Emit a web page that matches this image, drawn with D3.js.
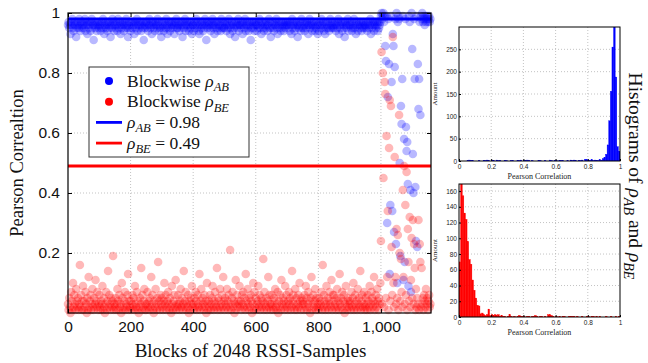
<!DOCTYPE html>
<html>
<head>
<meta charset="utf-8">
<script src="https://cdn.jsdelivr.net/npm/d3@7/dist/d3.min.js"></script>
<style>
  body { margin: 0; background: #fff; }
  svg { display: block; font-family: "Liberation Serif", "DejaVu Serif", serif; }
</style>
</head>
<body>
<svg id="chart" width="648" height="363"></svg>
<script>
// Blockwise correlations, in hundredths, one value for every second block
const blockStep = 2
const blueAB = [
  96,97,95,96,93,97,96,98,95,94,96,97,96,92,95,97,96,95,98,96,94,97,95,96,97,
  95,96,98,94,96,97,93,96,95,97,96,94,97,98,95,96,91,96,97,95,96,94,97,96,95,
  97,96,94,95,97,96,98,95,93,96,97,95,96,94,97,96,95,97,92,96,95,98,96,97,94,
  96,95,97,96,94,98,95,96,97,93,96,95,97,96,94,96,97,95,98,96,95,92,96,97,95,
  94,97,96,95,97,96,93,97,95,96,98,94,96,97,95,96,97,94,96,95,97,91,96,95,97,
  96,97,95,94,96,98,96,95,97,93,96,97,95,96,94,97,96,95,98,96,97,94,95,96,92,
  97,95,96,94,97,96,95,98,96,93,95,97,96,94,97,95,96,97,95,96,93,97,96,98,95,
  95,96,97,94,96,95,97,96,92,97,95,96,98,94,96,97,95,96,94,97,96,95,97,93,96,
  96,94,97,95,96,98,95,97,96,94,93,96,97,95,96,97,94,96,95,98,96,91,97,95,96,
  97,96,95,94,97,96,98,95,96,93,97,96,95,97,94,96,95,97,96,94,98,95,96,97,95,
  95,97,96,94,96,97,95,98,96,93,95,96,97,94,96,95,97,92,96,97,95,96,98,94,96,
  96,95,97,96,93,97,96,95,98,94,96,97,95,96,94,97,96,91,95,97,96,95,97,94,96,
  97,96,94,96,95,97,98,95,96,93,97,96,95,94,97,96,95,97,96,94,96,98,95,97,92,
  95,96,97,95,94,96,97,96,98,95,93,96,97,95,96,94,97,95,96,97,94,96,95,97,96,
  96,97,95,96,94,97,96,93,98,95,96,97,94,96,95,97,96,92,96,95,97,96,94,98,95,
  97,95,96,94,97,96,95,97,96,93,96,98,95,96,97,94,96,95,97,96,94,95,97,96,93,
  96,94,97,96,95,98,96,95,97,94,96,93,97,95,96,97,95,94,96,98,95,96,97,95,96,
  95,97,96,94,96,95,97,98,93,96,95,97,96,94,97,96,95,92,97,96,95,96,98,94,96,
  97,96,95,97,94,96,95,98,96,95,93,97,96,94,96,97,95,96,97,94,95,96,97,95,96,
  96,95,97,94,96,97,95,96,98,93,96,95,97,96,94,97,96,95,97,96,94,97,95,96,97,
  99,100,98,99,100,97,99,89,84,99,
  30,72,98,83,13,36,99,77,34,93,
  89,27,82,98,23,100,10,97,99,98,
  50,19,69,63,78,99,11,58,17,98,
  62,54,57,43,9,99,97,41,7,100,
  88,53,40,98,78,42,24,99,22,83,
  68,78,97,66,99,98,100,97,99,98,
  96,99,97,98,99,97,98,99,97,98
]
const redBE = [
  3,1,5,2,0,7,4,1,10,2,6,3,1,8,4,2,5,1,3,16,2,6,1,4,9,
  1,4,2,7,3,0,5,1,12,2,4,6,1,3,8,2,1,5,3,11,4,2,7,1,3,
  6,2,1,4,3,9,1,5,2,0,3,7,1,4,14,2,6,3,1,5,2,4,19,1,3,
  2,5,1,3,8,4,1,6,2,3,0,10,5,1,2,4,7,1,3,2,6,13,1,4,2,
  4,1,3,6,2,5,1,9,3,2,7,1,4,0,2,5,3,15,1,6,2,4,8,1,3,
  1,3,7,2,4,1,5,2,12,3,6,1,0,4,2,8,3,1,5,17,2,4,1,6,3,
  5,2,1,4,10,3,6,1,2,4,7,3,1,5,2,0,9,3,1,4,6,2,11,1,3,
  2,6,3,1,4,8,2,5,1,3,14,2,4,7,1,3,2,6,0,4,1,5,3,9,2,
  3,1,5,2,7,4,1,6,3,2,13,1,4,8,2,5,3,1,6,2,4,0,10,3,1,
  4,2,6,1,3,5,9,2,1,4,7,3,2,15,1,5,4,2,8,1,3,6,2,12,4,
  1,5,3,2,8,4,1,6,2,21,3,1,5,7,2,4,0,3,11,1,6,2,4,3,9,
  2,4,1,6,3,7,2,5,1,13,4,2,8,3,1,5,2,6,4,0,3,10,1,7,2,
  5,1,3,4,9,2,6,1,3,5,2,4,18,1,7,3,2,5,1,4,12,2,6,3,1,
  3,6,2,1,5,4,8,2,1,3,7,0,4,2,6,1,11,3,5,2,4,1,9,3,6,
  2,1,4,7,3,5,1,2,14,4,6,3,1,8,2,5,1,3,6,2,10,4,1,5,3,
  4,3,1,6,2,9,5,1,3,7,2,4,0,5,12,1,3,6,2,4,8,1,5,2,3,
  1,5,2,4,3,7,1,16,2,6,4,1,3,9,2,5,1,4,7,3,2,11,1,6,4,
  6,2,3,1,5,8,2,4,1,13,3,5,2,7,1,4,6,0,3,9,2,1,5,4,2,
  3,4,1,7,2,5,10,1,3,6,2,4,1,8,3,5,2,14,1,4,6,2,3,7,1,
  2,5,3,1,6,4,2,9,1,3,7,5,2,4,12,1,3,6,2,8,4,1,5,3,10,
  24,87,3,80,45,2,77,73,5,59,
  12,34,1,55,71,4,69,22,6,92,
  10,2,52,12,3,28,5,26,1,66,
  20,4,18,7,2,41,12,49,3,36,
  6,47,1,28,17,4,32,2,11,25,
  5,31,3,23,15,1,8,2,5,3,
  31,1,23,17,2,15,3,5,1,6,
  4,2,8,3,5,1,4,6,2,3
]
const meanAB = 0.98
const meanBE = 0.49

const xTicks = [0, 200, 400, 600, 800, 1000]
const yTicks = [0.2, 0.4, 0.6, 0.8, 1]

// Histograms, 100 bins of width 0.01
const binWidth = 0.01
const histAB = [
  0,0,0,0,0,1,2,1,1,0,
  0,0,1,0,0,1,1,2,1,0,
  1,1,0,2,1,1,0,0,1,1,
  0,0,1,1,0,0,1,1,2,0,
  1,1,2,1,0,1,0,0,0,1,
  1,0,0,1,0,0,2,1,0,1,
  1,0,1,1,1,0,0,1,0,2,
  1,2,1,0,1,1,2,0,4,3,
  2,1,3,1,2,1,1,3,2,5,
  8,15,36,90,156,255,330,188,32,22
]
const histBE = [
  70,175,154,132,124,96,73,67,47,34,
  24,15,14,4,5,3,2,3,10,2,
  3,2,3,2,3,1,2,1,1,0,
  1,3,1,0,1,0,1,2,1,1,
  1,0,1,1,0,1,1,2,1,0,
  1,1,0,1,0,3,3,2,1,0,
  1,0,1,0,1,1,0,0,1,1,
  1,1,0,1,0,0,1,0,0,1,
  1,0,1,1,0,1,0,1,0,0,
  0,1,0,0,1,0,0,1,0,1
]
const histXTicks = [0, 0.2, 0.4, 0.6, 0.8, 1]
const histABTicks = [0, 50, 100, 150, 200, 250]
const histBETicks = [0, 20, 40, 60, 80, 100, 120, 140, 160]

const svg = d3.select('#chart')
svg.append('rect').attr('width', 648).attr('height', 363).attr('fill', '#fff')

const gridStyle = g => g
  .attr('stroke', '#b4b4b4').attr('stroke-width', 0.8).attr('stroke-dasharray', '1,2')

// Subscript helper: ρ with italic subscript
function rho(text, sub, size) {
  text.append('tspan').attr('font-style', 'italic').text('ρ')
  text.append('tspan').attr('font-style', 'italic').attr('font-size', size * 0.72)
    .attr('dy', size * 0.25).text(sub)
  return text
}

// ---- Main scatter plot ----
const main = { left: 68, right: 431, top: 13, bottom: 313 }
const x = d3.scaleLinear().domain([0, 1160]).range([main.left, main.right])
const y = d3.scaleLinear().domain([0, 1]).range([main.bottom, main.top])

svg.append('g')
  .call(gridStyle)
  .selectAll('line').data(xTicks.slice(1)).join('line')
    .attr('x1', d => x(d)).attr('x2', d => x(d))
    .attr('y1', main.top).attr('y2', main.bottom)
svg.append('g')
  .call(gridStyle)
  .selectAll('line').data(yTicks.slice(0, -1)).join('line')
    .attr('x1', main.left).attr('x2', main.right)
    .attr('y1', d => y(d)).attr('y2', d => y(d))

const scatter = svg.append('g')
scatter.append('g').selectAll('circle').data(blueAB).join('circle')
  .attr('cx', (d, i) => x(i * blockStep))
  .attr('cy', d => y(d / 100))
  .attr('r', 4.3)
  .attr('fill', '#0000ff').attr('fill-opacity', 0.28)
scatter.append('g').selectAll('circle').data(redBE).join('circle')
  .attr('cx', (d, i) => x(i * blockStep))
  .attr('cy', d => y(d / 100))
  .attr('r', 4.3)
  .attr('fill', '#ff0000').attr('fill-opacity', 0.28)

svg.append('line')
  .attr('x1', main.left).attr('x2', main.right)
  .attr('y1', y(meanAB)).attr('y2', y(meanAB))
  .attr('stroke', '#0000ff').attr('stroke-width', 2.8)
svg.append('line')
  .attr('x1', main.left).attr('x2', main.right)
  .attr('y1', y(meanBE)).attr('y2', y(meanBE))
  .attr('stroke', '#ff0000').attr('stroke-width', 2.8)

// axes: frame with inward ticks on all four sides
svg.append('g')
  .attr('transform', 'translate(0,' + main.bottom + ')')
  .call(d3.axisBottom(x).tickValues(xTicks).tickFormat(d3.format(',')).tickSize(-4).tickPadding(8))
  .call(g => g.select('.domain').remove())
  .call(g => g.selectAll('text').attr('font-size', 15.5).attr('font-family', null).attr('fill', '#111'))
svg.append('g')
  .attr('transform', 'translate(0,' + main.top + ')')
  .call(d3.axisTop(x).tickValues(xTicks).tickFormat('').tickSize(-4))
  .call(g => g.select('.domain').remove())
svg.append('g')
  .attr('transform', 'translate(' + main.left + ',0)')
  .call(d3.axisLeft(y).tickValues(yTicks).tickFormat(d3.format('')).tickSize(-4).tickPadding(8))
  .call(g => g.select('.domain').remove())
  .call(g => g.selectAll('text').attr('font-size', 15.5).attr('font-family', null).attr('fill', '#111'))
svg.append('g')
  .attr('transform', 'translate(' + main.right + ',0)')
  .call(d3.axisRight(y).tickValues(yTicks).tickFormat('').tickSize(-4))
  .call(g => g.select('.domain').remove())
svg.append('rect')
  .attr('x', main.left).attr('y', main.top)
  .attr('width', main.right - main.left).attr('height', main.bottom - main.top)
  .attr('fill', 'none').attr('stroke', '#000').attr('stroke-width', 1.2)

svg.append('text')
  .attr('x', (main.left + main.right) / 2 + 1).attr('y', 357)
  .attr('text-anchor', 'middle').attr('font-size', 19).attr('fill', '#111')
  .text('Blocks of 2048 RSSI-Samples')
svg.append('text')
  .attr('transform', 'translate(23,' + ((main.top + main.bottom) / 2) + ') rotate(-90)')
  .attr('text-anchor', 'middle').attr('font-size', 18.5).attr('fill', '#111')
  .text('Pearson Correaltion')

// legend
const legend = svg.append('g').attr('transform', 'translate(89,67)')
legend.append('rect').attr('width', 160).attr('height', 90)
  .attr('fill', '#fff').attr('stroke', '#333').attr('stroke-width', 1)
const legendRows = [
  { kind: 'dot', color: '#0000ff', label: 'Blockwise ', sub: 'AB', tail: '' },
  { kind: 'dot', color: '#ff0000', label: 'Blockwise ', sub: 'BE', tail: '' },
  { kind: 'line', color: '#0000ff', label: '', sub: 'AB', tail: ' = ' + meanAB },
  { kind: 'line', color: '#ff0000', label: '', sub: 'BE', tail: ' = ' + meanBE }
]
legendRows.forEach((r, i) => {
  const cy = 14 + i * 20.7
  if (r.kind === 'dot') {
    legend.append('circle').attr('cx', 20).attr('cy', cy).attr('r', 4).attr('fill', r.color)
  } else {
    legend.append('line').attr('x1', 7).attr('x2', 33).attr('y1', cy).attr('y2', cy)
      .attr('stroke', r.color).attr('stroke-width', 2.8)
  }
  const t = legend.append('text').attr('x', 38).attr('y', cy + 5.5)
    .attr('font-size', 17.5).attr('fill', '#111')
  if (r.label) t.append('tspan').text(r.label)
  rho(t, r.sub, 17.5)
  if (r.tail) t.append('tspan').attr('dy', -17.5 * 0.25).text(r.tail)
})

// ---- Histograms ----
function histogram(counts, yMax, yTickVals, color, box) {
  const hx = d3.scaleLinear().domain([0, 1]).range([box.left, box.right])
  const hy = d3.scaleLinear().domain([0, yMax]).range([box.bottom, box.top])
  const g = svg.append('g')
  const clipId = 'clip-' + color.slice(1)
  g.append('clipPath').attr('id', clipId).append('rect')
    .attr('x', box.left).attr('y', box.top)
    .attr('width', box.right - box.left).attr('height', box.bottom - box.top)

  g.append('g').call(gridStyle)
    .selectAll('line').data(histXTicks.slice(1, -1)).join('line')
      .attr('x1', d => hx(d)).attr('x2', d => hx(d))
      .attr('y1', box.top).attr('y2', box.bottom)
  g.append('g').call(gridStyle)
    .selectAll('line').data(yTickVals.slice(1)).join('line')
      .attr('x1', box.left).attr('x2', box.right)
      .attr('y1', d => hy(d)).attr('y2', d => hy(d))

  g.append('g').attr('clip-path', 'url(#' + clipId + ')')
    .selectAll('rect').data(counts).join('rect')
      .attr('x', (d, i) => hx(i * binWidth))
      .attr('width', (d, i) => hx((i + 1) * binWidth) - hx(i * binWidth))
      .attr('y', d => hy(d))
      .attr('height', d => hy(0) - hy(d))
      .attr('fill', color).attr('stroke', color).attr('stroke-width', 0.4)

  g.append('g').attr('transform', 'translate(0,' + box.bottom + ')')
    .call(d3.axisBottom(hx).tickValues(histXTicks).tickFormat(d3.format('')).tickSize(-2).tickPadding(3))
    .call(s => s.select('.domain').remove())
    .call(s => s.selectAll('text').attr('font-size', 6.5).attr('font-family', null).attr('fill', '#222'))
  g.append('g').attr('transform', 'translate(' + box.left + ',0)')
    .call(d3.axisLeft(hy).tickValues(yTickVals).tickSize(-2).tickPadding(2))
    .call(s => s.select('.domain').remove())
    .call(s => s.selectAll('text').attr('font-size', 6.5).attr('font-family', null).attr('fill', '#222'))
  g.append('rect')
    .attr('x', box.left).attr('y', box.top)
    .attr('width', box.right - box.left).attr('height', box.bottom - box.top)
    .attr('fill', 'none').attr('stroke', '#000').attr('stroke-width', 1)

  g.append('text')
    .attr('x', (box.left + box.right) / 2).attr('y', box.bottom + 18)
    .attr('text-anchor', 'middle').attr('font-size', 8).attr('fill', '#222')
    .text('Pearson Correlation')
  g.append('text')
    .attr('transform', 'translate(' + (box.left - 22) + ',' + ((box.top + box.bottom) / 2) + ') rotate(-90)')
    .attr('text-anchor', 'middle').attr('font-size', 7).attr('fill', '#222')
    .text('Amount')
}

histogram(histAB, 300, histABTicks, '#0000ff', { left: 459, right: 620, top: 27, bottom: 161 })
histogram(histBE, 169, histBETicks, '#ff0000', { left: 459, right: 620, top: 184, bottom: 317 })

// right-side title, read top to bottom
const title = svg.append('text')
  .attr('transform', 'translate(629,176) rotate(90)')
  .attr('text-anchor', 'middle').attr('font-size', 19.5).attr('fill', '#111')
title.append('tspan').text('Histograms of ')
rho(title, 'AB', 19.5)
title.append('tspan').attr('dy', -19.5 * 0.25).text(' and ')
rho(title, 'BE', 19.5)
</script>
</body>
</html>
